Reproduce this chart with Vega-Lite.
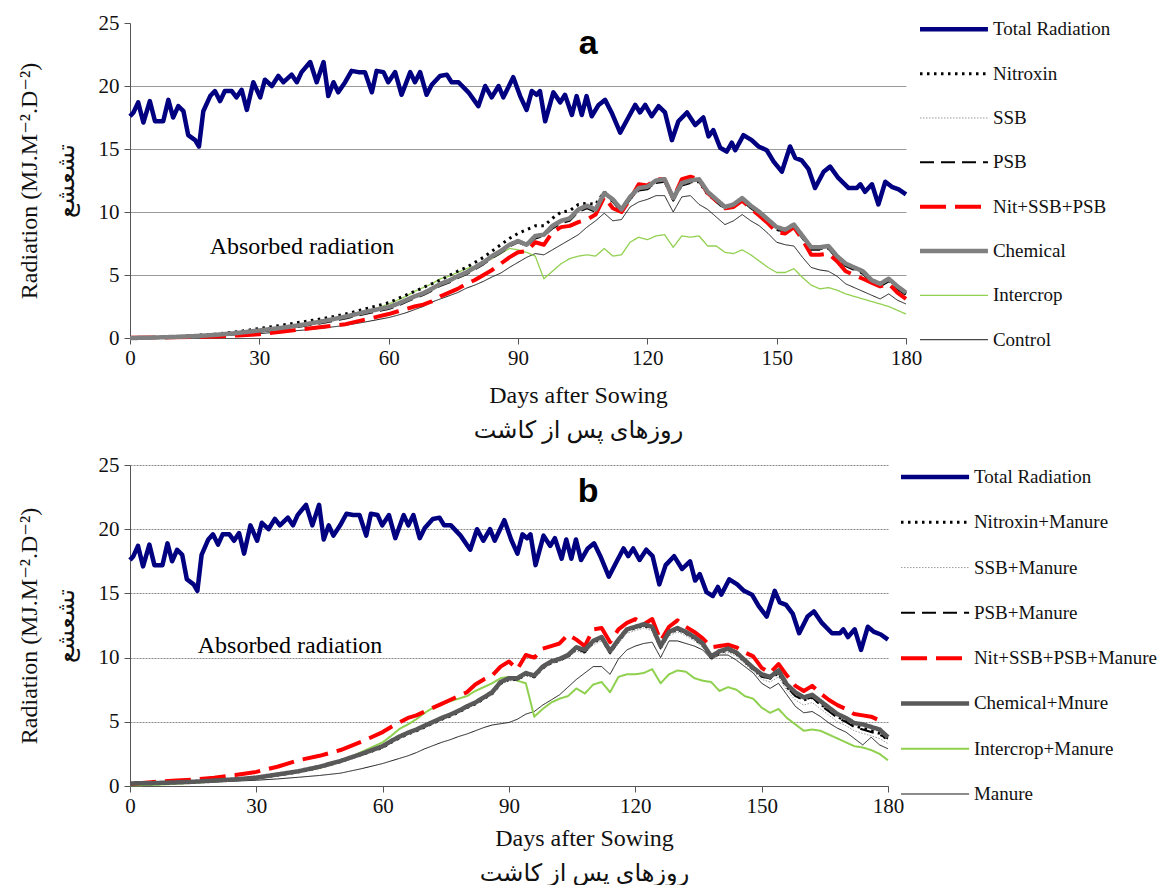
{
"$schema": "https://vega.github.io/schema/vega-lite/v6.json",
"background": "white",
"padding": {"left": 17, "top": 12, "right": 0, "bottom": 0},
"config": {
  "view": {"stroke": null},
  "font": "Liberation Serif",
  "axis": {"labelFont": "Liberation Serif", "titleFont": "Liberation Serif, DejaVu Sans", "labelColor": "#111", "titleColor": "#111", "titleFontWeight": "normal", "domainColor": "#555", "tickColor": "#555"}
},
"datasets": {
"tot": [{"d":0,"v":17.6},{"d":0.8,"v":17.9},{"d":1.9,"v":18.7},{"d":3.1,"v":17.1},{"d":4.6,"v":18.8},{"d":5.8,"v":17.2},{"d":7.7,"v":17.2},{"d":8.9,"v":18.9},{"d":10,"v":17.5},{"d":11.2,"v":18.4},{"d":12.4,"v":18.0},{"d":13.5,"v":16.1},{"d":15.1,"v":15.7},{"d":16,"v":15.2},{"d":17,"v":18.0},{"d":18.6,"v":19.2},{"d":19.7,"v":19.6},{"d":20.9,"v":18.8},{"d":22,"v":19.6},{"d":23.6,"v":19.6},{"d":24.7,"v":19.1},{"d":25.9,"v":19.7},{"d":27.1,"v":18.1},{"d":28.6,"v":20.3},{"d":30.2,"v":19.1},{"d":31.3,"v":20.5},{"d":32.9,"v":20.0},{"d":34.4,"v":20.8},{"d":35.6,"v":20.3},{"d":37.5,"v":20.9},{"d":38.7,"v":20.3},{"d":39.8,"v":21.1},{"d":41.8,"v":21.9},{"d":43.3,"v":20.3},{"d":44.9,"v":21.9},{"d":46,"v":19.2},{"d":47.2,"v":20.3},{"d":48.3,"v":19.5},{"d":49.9,"v":20.3},{"d":51.4,"v":21.2},{"d":53,"v":21.1},{"d":54.5,"v":21.1},{"d":56.1,"v":19.5},{"d":57.2,"v":21.2},{"d":58.8,"v":21.1},{"d":59.9,"v":20.3},{"d":61.5,"v":21.1},{"d":63,"v":19.3},{"d":65,"v":21.1},{"d":66.1,"v":20.3},{"d":67.3,"v":21.1},{"d":68.8,"v":19.3},{"d":70,"v":20.1},{"d":71.9,"v":20.8},{"d":73.5,"v":20.9},{"d":74.6,"v":20.3},{"d":76.2,"v":20.3},{"d":78.5,"v":19.5},{"d":80.8,"v":18.4},{"d":82.4,"v":20.0},{"d":83.9,"v":19.1},{"d":85.5,"v":20.0},{"d":86.6,"v":19.1},{"d":88.9,"v":20.7},{"d":90.5,"v":19.2},{"d":92,"v":18.1},{"d":93.2,"v":19.6},{"d":94.3,"v":19.3},{"d":95.1,"v":19.6},{"d":96.3,"v":17.2},{"d":98.2,"v":19.5},{"d":99.8,"v":18.7},{"d":100.9,"v":19.3},{"d":102.5,"v":17.7},{"d":103.6,"v":19.2},{"d":104.8,"v":17.7},{"d":105.9,"v":19.2},{"d":107.1,"v":17.6},{"d":108.7,"v":18.5},{"d":110.2,"v":18.9},{"d":111.7,"v":17.9},{"d":113.7,"v":16.3},{"d":115.6,"v":17.5},{"d":117.2,"v":18.5},{"d":118.3,"v":17.9},{"d":119.5,"v":18.5},{"d":121,"v":17.6},{"d":122.6,"v":18.4},{"d":124.1,"v":17.9},{"d":125.7,"v":15.7},{"d":127.2,"v":17.2},{"d":129.2,"v":17.9},{"d":131.1,"v":16.9},{"d":133,"v":17.5},{"d":134.2,"v":16.0},{"d":135.3,"v":16.5},{"d":136.9,"v":15.1},{"d":138.4,"v":14.8},{"d":139.6,"v":15.5},{"d":140.4,"v":14.9},{"d":142.3,"v":16.1},{"d":144.2,"v":15.7},{"d":145.8,"v":15.2},{"d":147.7,"v":14.9},{"d":149.3,"v":14.0},{"d":151.2,"v":13.2},{"d":153.1,"v":15.2},{"d":154.3,"v":14.3},{"d":155.8,"v":14.1},{"d":157.4,"v":13.4},{"d":158.9,"v":11.9},{"d":160.9,"v":13.2},{"d":162.4,"v":13.6},{"d":164.3,"v":12.7},{"d":166.7,"v":11.9},{"d":168.6,"v":11.9},{"d":169.4,"v":12.2},{"d":170.5,"v":11.6},{"d":172.1,"v":12.2},{"d":173.6,"v":10.6},{"d":175.2,"v":12.4},{"d":176.7,"v":12.0},{"d":178.3,"v":11.8},{"d":180,"v":11.4}],
"a": [
{"d":0,"K":0,"I":0,"S":0,"P":0,"N":0,"X":0.02,"C":0},
{"d":5,"K":0.02,"I":0.02,"S":0.03,"P":0.02,"N":0.03,"X":0.03,"C":0.03},
{"d":10,"K":0.05,"I":0.07,"S":0.07,"P":0.06,"N":0.1,"X":0.05,"C":0.08},
{"d":15,"K":0.1,"I":0.15,"S":0.14,"P":0.12,"N":0.2,"X":0.08,"C":0.15},
{"d":20,"K":0.15,"I":0.25,"S":0.23,"P":0.2,"N":0.32,"X":0.12,"C":0.25},
{"d":25,"K":0.25,"I":0.4,"S":0.37,"P":0.33,"N":0.5,"X":0.2,"C":0.4},
{"d":30,"K":0.35,"I":0.55,"S":0.56,"P":0.5,"N":0.75,"X":0.3,"C":0.6},
{"d":35,"K":0.48,"I":0.75,"S":0.76,"P":0.7,"N":1.0,"X":0.5,"C":0.8},
{"d":40,"K":0.62,"I":1.0,"S":1.0,"P":0.93,"N":1.28,"X":0.7,"C":1.05},
{"d":45,"K":0.8,"I":1.3,"S":1.28,"P":1.2,"N":1.55,"X":0.9,"C":1.35},
{"d":50,"K":1.0,"I":1.65,"S":1.62,"P":1.55,"N":1.9,"X":1.1,"C":1.7},
{"d":55,"K":1.3,"I":2.1,"S":2.0,"P":1.95,"N":2.35,"X":1.5,"C":2.1},
{"d":60,"K":1.62,"I":2.7,"S":2.35,"P":2.3,"N":2.8,"X":1.9,"C":2.45},
{"d":62,"K":1.8,"I":3.0,"S":2.6,"P":2.55,"N":3.1,"X":2.1,"C":2.7},
{"d":64,"K":2.0,"I":3.3,"S":2.9,"P":2.85,"N":3.4,"X":2.3,"C":3.0},
{"d":66,"K":2.25,"I":3.7,"S":3.2,"P":3.15,"N":3.7,"X":2.5,"C":3.3},
{"d":68,"K":2.5,"I":4.0,"S":3.45,"P":3.4,"N":4.0,"X":2.65,"C":3.55},
{"d":70,"K":2.85,"I":4.3,"S":3.8,"P":3.75,"N":4.3,"X":2.9,"C":3.9},
{"d":72,"K":3.1,"I":4.7,"S":4.2,"P":4.15,"N":4.6,"X":3.3,"C":4.3},
{"d":74,"K":3.35,"I":4.9,"S":4.45,"P":4.4,"N":4.95,"X":3.6,"C":4.55},
{"d":76,"K":3.6,"I":5.2,"S":4.8,"P":4.75,"N":5.3,"X":3.9,"C":4.9},
{"d":78,"K":3.95,"I":5.5,"S":5.1,"P":5.05,"N":5.6,"X":4.3,"C":5.2},
{"d":80,"K":4.2,"I":5.7,"S":5.5,"P":5.45,"N":6.0,"X":4.6,"C":5.6},
{"d":82,"K":4.5,"I":6.0,"S":5.9,"P":5.85,"N":6.4,"X":5.0,"C":6.0},
{"d":84,"K":4.85,"I":6.3,"S":6.4,"P":6.35,"N":6.9,"X":5.4,"C":6.5},
{"d":86,"K":5.15,"I":6.7,"S":6.8,"P":6.75,"N":7.4,"X":5.9,"C":6.9},
{"d":88,"K":5.6,"I":7.1,"S":7.3,"P":7.25,"N":7.9,"X":6.4,"C":7.4},
{"d":90,"K":6.0,"I":7.0,"S":7.6,"P":7.6,"N":8.3,"X":6.8,"C":7.7},
{"d":92,"K":6.4,"I":6.8,"S":7.3,"P":7.3,"N":8.6,"X":6.9,"C":7.4},
{"d":94,"K":6.7,"I":6.5,"S":8.0,"P":7.9,"N":8.9,"X":7.6,"C":8.1},
{"d":96,"K":6.6,"I":4.7,"S":8.1,"P":8.1,"N":8.9,"X":7.4,"C":8.2},
{"d":98,"K":7.0,"I":5.3,"S":8.8,"P":8.7,"N":9.5,"X":8.4,"C":8.9},
{"d":100,"K":7.4,"I":5.9,"S":9.2,"P":9.1,"N":10.0,"X":8.8,"C":9.3},
{"d":102,"K":7.8,"I":6.3,"S":9.4,"P":9.3,"N":10.1,"X":8.9,"C":9.5},
{"d":104,"K":8.2,"I":6.5,"S":10.1,"P":10.0,"N":10.6,"X":9.2,"C":10.2},
{"d":106,"K":8.8,"I":6.6,"S":10.4,"P":10.3,"N":10.7,"X":9.4,"C":10.5},
{"d":108,"K":9.3,"I":6.5,"S":10.1,"P":10.0,"N":10.6,"X":9.8,"C":10.2},
{"d":110,"K":9.9,"I":7.1,"S":11.4,"P":11.3,"N":11.6,"X":11.2,"C":11.5},
{"d":112,"K":9.3,"I":6.5,"S":10.9,"P":10.8,"N":11.0,"X":10.3,"C":11.0},
{"d":114,"K":9.4,"I":6.6,"S":10.1,"P":10.0,"N":10.2,"X":10.0,"C":10.2},
{"d":116,"K":10.4,"I":7.6,"S":11.1,"P":11.0,"N":11.1,"X":11.0,"C":11.2},
{"d":118,"K":10.8,"I":8.0,"S":11.8,"P":11.7,"N":11.8,"X":12.2,"C":11.9},
{"d":120,"K":11.0,"I":7.8,"S":11.9,"P":11.8,"N":11.9,"X":12.1,"C":12.0},
{"d":122,"K":11.3,"I":8.1,"S":12.4,"P":12.3,"N":12.4,"X":12.6,"C":12.5},
{"d":124,"K":11.3,"I":8.2,"S":12.5,"P":12.4,"N":12.5,"X":12.6,"C":12.6},
{"d":126,"K":10.0,"I":7.2,"S":11.0,"P":10.9,"N":11.0,"X":11.1,"C":11.1},
{"d":128,"K":11.2,"I":8.1,"S":12.2,"P":12.1,"N":12.2,"X":12.6,"C":12.3},
{"d":130,"K":11.3,"I":8.0,"S":12.4,"P":12.3,"N":12.4,"X":12.8,"C":12.5},
{"d":132,"K":10.6,"I":8.1,"S":12.5,"P":12.4,"N":12.4,"X":12.6,"C":12.6},
{"d":134,"K":10.2,"I":7.3,"S":11.5,"P":11.4,"N":11.4,"X":11.5,"C":11.6},
{"d":136,"K":9.6,"I":7.3,"S":10.9,"P":10.8,"N":10.9,"X":10.9,"C":11.0},
{"d":138,"K":9.0,"I":6.8,"S":10.3,"P":10.2,"N":10.3,"X":10.3,"C":10.4},
{"d":140,"K":9.3,"I":6.7,"S":10.5,"P":10.4,"N":10.5,"X":10.4,"C":10.6},
{"d":142,"K":9.8,"I":7.0,"S":11.0,"P":10.9,"N":11.0,"X":10.9,"C":11.1},
{"d":144,"K":9.3,"I":6.6,"S":10.4,"P":10.3,"N":10.4,"X":10.3,"C":10.5},
{"d":146,"K":8.9,"I":6.1,"S":9.9,"P":9.8,"N":9.9,"X":9.7,"C":10.0},
{"d":148,"K":8.3,"I":5.6,"S":9.3,"P":9.2,"N":9.3,"X":9.1,"C":9.4},
{"d":150,"K":7.6,"I":5.2,"S":8.7,"P":8.6,"N":8.6,"X":8.4,"C":8.8},
{"d":152,"K":7.4,"I":5.2,"S":8.5,"P":8.4,"N":8.5,"X":8.3,"C":8.6},
{"d":154,"K":7.3,"I":5.5,"S":8.9,"P":8.8,"N":8.9,"X":8.8,"C":9.0},
{"d":156,"K":6.4,"I":4.8,"S":8.0,"P":7.9,"N":8.0,"X":7.8,"C":8.1},
{"d":158,"K":5.6,"I":4.2,"S":7.1,"P":7.0,"N":7.1,"X":6.6,"C":7.2},
{"d":160,"K":5.4,"I":3.9,"S":7.1,"P":7.0,"N":7.1,"X":6.6,"C":7.2},
{"d":162,"K":5.3,"I":4.0,"S":7.2,"P":7.1,"N":7.2,"X":6.7,"C":7.3},
{"d":164,"K":4.9,"I":3.8,"S":6.4,"P":6.3,"N":6.4,"X":6.1,"C":6.5},
{"d":166,"K":4.3,"I":3.5,"S":5.8,"P":5.7,"N":5.8,"X":5.3,"C":5.9},
{"d":168,"K":4.0,"I":3.3,"S":5.5,"P":5.4,"N":5.5,"X":5.0,"C":5.6},
{"d":170,"K":3.7,"I":3.1,"S":5.2,"P":5.1,"N":5.2,"X":4.7,"C":5.3},
{"d":172,"K":3.4,"I":2.9,"S":4.5,"P":4.4,"N":4.5,"X":4.4,"C":4.6},
{"d":174,"K":3.1,"I":2.7,"S":4.2,"P":4.1,"N":4.2,"X":4.1,"C":4.3},
{"d":176,"K":3.5,"I":2.5,"S":4.6,"P":4.5,"N":4.6,"X":4.3,"C":4.7},
{"d":178,"K":3.0,"I":2.2,"S":4.0,"P":3.9,"N":4.0,"X":3.6,"C":4.1},
{"d":180,"K":2.7,"I":1.9,"S":3.5,"P":3.4,"N":3.5,"X":3.1,"C":3.6}
],
"b": [
{"d":0,"K":0.15,"I":0.05,"S":0.2,"P":0.22,"N":0.2,"X":0.15,"C":0.2},
{"d":5,"K":0.18,"I":0.08,"S":0.22,"P":0.24,"N":0.22,"X":0.3,"C":0.22},
{"d":10,"K":0.22,"I":0.15,"S":0.26,"P":0.28,"N":0.26,"X":0.4,"C":0.27},
{"d":15,"K":0.27,"I":0.25,"S":0.31,"P":0.34,"N":0.32,"X":0.5,"C":0.33},
{"d":20,"K":0.32,"I":0.35,"S":0.39,"P":0.43,"N":0.4,"X":0.65,"C":0.42},
{"d":25,"K":0.38,"I":0.48,"S":0.49,"P":0.53,"N":0.5,"X":0.85,"C":0.52},
{"d":30,"K":0.45,"I":0.62,"S":0.6,"P":0.66,"N":0.62,"X":1.1,"C":0.65},
{"d":35,"K":0.55,"I":0.85,"S":0.82,"P":0.9,"N":0.85,"X":1.5,"C":0.9},
{"d":40,"K":0.68,"I":1.1,"S":1.07,"P":1.15,"N":1.1,"X":2.0,"C":1.15},
{"d":45,"K":0.82,"I":1.4,"S":1.4,"P":1.5,"N":1.45,"X":2.35,"C":1.5},
{"d":50,"K":1.0,"I":1.9,"S":1.85,"P":1.95,"N":1.9,"X":2.8,"C":1.95},
{"d":55,"K":1.35,"I":2.65,"S":2.4,"P":2.5,"N":2.45,"X":3.45,"C":2.5},
{"d":60,"K":1.75,"I":3.4,"S":2.95,"P":3.05,"N":3.0,"X":4.2,"C":3.1},
{"d":62,"K":1.95,"I":3.9,"S":3.35,"P":3.45,"N":3.4,"X":4.6,"C":3.5},
{"d":64,"K":2.15,"I":4.45,"S":3.7,"P":3.8,"N":3.75,"X":4.95,"C":3.85},
{"d":66,"K":2.35,"I":4.8,"S":4.0,"P":4.1,"N":4.05,"X":5.3,"C":4.15},
{"d":68,"K":2.6,"I":5.2,"S":4.25,"P":4.35,"N":4.3,"X":5.5,"C":4.4},
{"d":70,"K":2.9,"I":5.7,"S":4.55,"P":4.65,"N":4.6,"X":5.8,"C":4.7},
{"d":72,"K":3.15,"I":6.1,"S":4.85,"P":4.95,"N":4.9,"X":6.1,"C":5.0},
{"d":74,"K":3.4,"I":6.35,"S":5.15,"P":5.25,"N":5.2,"X":6.4,"C":5.3},
{"d":76,"K":3.6,"I":6.6,"S":5.4,"P":5.5,"N":5.45,"X":6.7,"C":5.55},
{"d":78,"K":3.85,"I":6.8,"S":5.7,"P":5.8,"N":5.75,"X":7.0,"C":5.85},
{"d":80,"K":4.05,"I":7.0,"S":6.05,"P":6.15,"N":6.1,"X":7.3,"C":6.2},
{"d":82,"K":4.3,"I":7.4,"S":6.35,"P":6.45,"N":6.4,"X":7.9,"C":6.5},
{"d":84,"K":4.55,"I":7.7,"S":6.75,"P":6.85,"N":6.8,"X":8.3,"C":6.9},
{"d":86,"K":4.75,"I":8.0,"S":7.15,"P":7.25,"N":7.2,"X":8.6,"C":7.3},
{"d":88,"K":4.85,"I":8.4,"S":7.9,"P":8.0,"N":8.0,"X":9.3,"C":8.1},
{"d":90,"K":4.95,"I":8.5,"S":8.2,"P":8.35,"N":8.3,"X":9.7,"C":8.4},
{"d":92,"K":5.2,"I":8.2,"S":8.2,"P":8.3,"N":8.3,"X":9.1,"C":8.4},
{"d":94,"K":5.6,"I":8.0,"S":8.6,"P":8.75,"N":8.7,"X":10.2,"C":8.8},
{"d":96,"K":5.8,"I":5.4,"S":8.4,"P":8.5,"N":8.5,"X":10.0,"C":8.6},
{"d":98,"K":6.3,"I":6.0,"S":9.1,"P":9.2,"N":9.2,"X":10.7,"C":9.3},
{"d":100,"K":6.7,"I":6.5,"S":9.5,"P":9.65,"N":9.6,"X":10.9,"C":9.7},
{"d":102,"K":7.1,"I":6.8,"S":9.7,"P":9.8,"N":9.8,"X":11.1,"C":9.9},
{"d":104,"K":7.7,"I":7.0,"S":10.0,"P":10.1,"N":10.1,"X":11.8,"C":10.2},
{"d":106,"K":8.3,"I":7.6,"S":10.5,"P":10.7,"N":10.7,"X":11.4,"C":10.8},
{"d":108,"K":8.8,"I":7.2,"S":10.3,"P":10.4,"N":10.5,"X":10.9,"C":10.6},
{"d":110,"K":9.3,"I":7.9,"S":11.0,"P":11.3,"N":11.2,"X":12.2,"C":11.3},
{"d":112,"K":9.3,"I":8.1,"S":11.3,"P":11.5,"N":11.5,"X":12.3,"C":11.6},
{"d":114,"K":8.7,"I":7.3,"S":10.2,"P":10.4,"N":10.4,"X":11.2,"C":10.5},
{"d":116,"K":9.9,"I":8.5,"S":11.1,"P":11.4,"N":11.3,"X":12.2,"C":11.4},
{"d":118,"K":10.6,"I":8.7,"S":11.9,"P":12.1,"N":12.1,"X":12.7,"C":12.2},
{"d":120,"K":10.9,"I":8.7,"S":12.1,"P":12.3,"N":12.3,"X":13.0,"C":12.4},
{"d":122,"K":11.1,"I":8.8,"S":12.3,"P":12.5,"N":12.5,"X":12.6,"C":12.6},
{"d":124,"K":11.2,"I":9.1,"S":12.1,"P":12.3,"N":12.3,"X":13.0,"C":12.4},
{"d":126,"K":10.0,"I":8.0,"S":10.6,"P":10.8,"N":10.8,"X":11.3,"C":10.9},
{"d":128,"K":11.3,"I":8.7,"S":11.7,"P":11.9,"N":11.9,"X":12.4,"C":12.0},
{"d":130,"K":11.3,"I":9.0,"S":12.0,"P":12.2,"N":12.2,"X":12.9,"C":12.3},
{"d":132,"K":11.1,"I":8.9,"S":11.7,"P":11.9,"N":11.9,"X":12.4,"C":12.0},
{"d":134,"K":10.9,"I":8.4,"S":11.3,"P":11.5,"N":11.5,"X":12.0,"C":11.6},
{"d":136,"K":10.6,"I":8.2,"S":10.8,"P":11.0,"N":11.0,"X":11.5,"C":11.1},
{"d":138,"K":9.9,"I":8.1,"S":9.8,"P":10.0,"N":10.0,"X":10.8,"C":10.1},
{"d":140,"K":10.2,"I":7.4,"S":10.2,"P":10.4,"N":10.4,"X":10.9,"C":10.5},
{"d":142,"K":10.2,"I":7.7,"S":10.4,"P":10.6,"N":10.6,"X":11.0,"C":10.7},
{"d":144,"K":9.8,"I":7.5,"S":10.1,"P":10.3,"N":10.3,"X":10.8,"C":10.4},
{"d":146,"K":9.3,"I":7.0,"S":9.5,"P":9.7,"N":9.7,"X":10.4,"C":9.8},
{"d":148,"K":8.8,"I":6.8,"S":8.9,"P":9.1,"N":9.1,"X":10.1,"C":9.2},
{"d":150,"K":8.0,"I":6.1,"S":8.3,"P":8.5,"N":8.6,"X":9.2,"C":8.7},
{"d":152,"K":7.6,"I":5.7,"S":8.1,"P":8.4,"N":8.4,"X":8.8,"C":8.5},
{"d":154,"K":8.0,"I":6.0,"S":8.5,"P":8.8,"N":8.8,"X":9.5,"C":9.0},
{"d":156,"K":7.1,"I":5.3,"S":7.4,"P":7.7,"N":7.7,"X":8.6,"C":7.9},
{"d":158,"K":6.2,"I":4.8,"S":6.7,"P":7.0,"N":7.1,"X":7.8,"C":7.3},
{"d":160,"K":5.7,"I":4.3,"S":6.3,"P":6.7,"N":6.7,"X":7.4,"C":6.9},
{"d":162,"K":5.8,"I":4.4,"S":6.5,"P":6.9,"N":6.9,"X":7.8,"C":7.1},
{"d":164,"K":5.4,"I":4.3,"S":6.0,"P":6.3,"N":6.4,"X":7.2,"C":6.6},
{"d":166,"K":4.9,"I":4.0,"S":5.5,"P":5.8,"N":5.9,"X":6.7,"C":6.1},
{"d":168,"K":4.5,"I":3.7,"S":5.0,"P":5.3,"N":5.4,"X":6.3,"C":5.6},
{"d":170,"K":4.2,"I":3.4,"S":4.7,"P":5.0,"N":5.1,"X":6.0,"C":5.3},
{"d":172,"K":3.7,"I":3.1,"S":4.3,"P":4.6,"N":4.7,"X":5.6,"C":4.9},
{"d":174,"K":3.2,"I":3.0,"S":4.1,"P":4.4,"N":4.5,"X":5.5,"C":4.8},
{"d":176,"K":3.8,"I":2.8,"S":3.9,"P":4.2,"N":4.3,"X":5.4,"C":4.6},
{"d":178,"K":3.2,"I":2.5,"S":3.7,"P":4.0,"N":4.1,"X":5.1,"C":4.4},
{"d":180,"K":2.9,"I":2.0,"S":3.3,"P":3.7,"N":3.6,"X":null,"C":3.8}
],
"la": [{"k":"T","label":"Total Radiation"},{"k":"N","label":"Nitroxin"},{"k":"S","label":"SSB"},{"k":"P","label":"PSB"},{"k":"X","label":"Nit+SSB+PSB"},{"k":"C","label":"Chemical"},{"k":"I","label":"Intercrop"},{"k":"K","label":"Control"}],
"lb": [{"k":"T","label":"Total Radiation"},{"k":"N","label":"Nitroxin+Manure"},{"k":"S","label":"SSB+Manure"},{"k":"P","label":"PSB+Manure"},{"k":"X","label":"Nit+SSB+PSB+Manure"},{"k":"C","label":"Chemical+Mnure"},{"k":"I","label":"Intercrop+Manure"},{"k":"K","label":"Manure"}],
"ta": [{"d":106.3,"v":23.3,"t":"a"}],
"tb": [{"d":108.8,"v":22.9,"t":"b"}],
"aa": [{"d":39.9,"v":7.2,"t":"Absorbed radiation"}],
"ab": [{"d":38.0,"v":10.9,"t":"Absorbed radiation"}]
},
"spacing": 12,
"resolve": {"scale": {"color": "independent", "strokeDash": "independent", "strokeWidth": "independent"}},
"vconcat": [
{
 "bounds": "flush",
 "spacing": 14,
 "hconcat": [
  {
   "width": 776, "height": 315,
   "layer": [
    {
     "data": {"name": "a"},
     "transform": [{"fold": ["K","I","S","P","N","X","C"], "as": ["k","v"]}],
     "mark": {"type": "line", "strokeJoin": "round"},
     "encoding": {
      "x": {"field": "d", "type": "quantitative", "scale": {"domain": [0,180], "nice": false},
            "axis": {"values": [0,30,60,90,120,150,180], "labelFontSize": 21, "labelFlush": false, "labelPadding": 3, "tickSize": 6, "grid": false,
                     "title": ["Days after Sowing", "روزهای پس از کاشت"], "titleFontSize": 24, "titleLineHeight": 35, "titleX": 448, "titleY": 45}},
      "y": {"field": "v", "type": "quantitative", "scale": {"domain": [0,25], "nice": false},
            "axis": {"values": [0,5,10,15,20,25], "labelFontSize": 21, "labelPadding": 5, "tickSize": 6,
                     "grid": true, "gridColor": "#9a9a9a", "gridOpacity": {"condition": {"test": "datum.value == 25", "value": 0}, "value": 1},
                     "title": ["Radiation (MJ.M⁻².D⁻²)", "تشعشع"], "titleFontSize": 24, "titleLineHeight": 37, "titlePadding": 20}},
      "color": {"field": "k", "type": "nominal", "legend": null, "scale": {"domain": ["T","N","S","P","X","C","I","K"], "range": ["#000080","#000000","#9a9a9a","#000000","#ff0000","#808080","#92d050","#1a1a1a"]}},
      "strokeDash": {"field": "k", "type": "nominal", "legend": null, "scale": {"domain": ["T","N","S","P","X","C","I","K"], "range": [[1,0],[2.5,4.5],[1.5,1.5],[14,7],[26,9],[1,0],[1,0],[1,0]]}},
      "strokeWidth": {"field": "k", "type": "nominal", "legend": null, "scale": {"type": "ordinal", "domain": ["T","N","S","P","X","C","I","K"], "range": [4.5,3,1,2,4,4.5,1.3,1]}}
     }
    },
    {
     "data": {"name": "tot"},
     "mark": {"type": "line", "color": "#000080", "strokeWidth": 4.5, "strokeJoin": "round"},
     "encoding": {"x": {"field": "d", "type": "quantitative"}, "y": {"field": "v", "type": "quantitative"}}
    },
    {
     "data": {"name": "ta"},
     "mark": {"type": "text", "font": "Liberation Sans", "fontWeight": "bold", "fontSize": 34, "baseline": "middle", "align": "center", "color": "#000"},
     "encoding": {"x": {"field": "d", "type": "quantitative"}, "y": {"field": "v", "type": "quantitative"}, "text": {"field": "t"}}
    },
    {
     "data": {"name": "aa"},
     "mark": {"type": "text", "font": "Liberation Serif", "fontSize": 24, "baseline": "middle", "align": "center", "color": "#000"},
     "encoding": {"x": {"field": "d", "type": "quantitative"}, "y": {"field": "v", "type": "quantitative"}, "text": {"field": "t"}}
    }
   ]
  },
  {
   "width": 248, "height": 323,
   "data": {"name": "la"},
   "layer": [
    {
     "mark": {"type": "rule", "strokeCap": "butt"},
     "encoding": {
      "y": {"field": "k", "type": "nominal", "scale": {"type": "point", "domain": ["T","N","S","P","X","C","I","K"], "padding": 0.142}, "axis": null},
      "x": {"datum": 0, "type": "quantitative", "scale": {"domain": [0,1], "nice": false}, "axis": null},
      "x2": {"datum": 0.274},
      "color": {"field": "k", "type": "nominal", "legend": null, "scale": {"domain": ["T","N","S","P","X","C","I","K"], "range": ["#000080","#000000","#9a9a9a","#000000","#ff0000","#808080","#92d050","#1a1a1a"]}},
      "strokeDash": {"field": "k", "type": "nominal", "legend": null, "scale": {"domain": ["T","N","S","P","X","C","I","K"], "range": [[1,0],[2.5,4.5],[1.5,1.5],[14,7],[26,9],[1,0],[1,0],[1,0]]}},
      "strokeWidth": {"field": "k", "type": "nominal", "legend": null, "scale": {"type": "ordinal", "domain": ["T","N","S","P","X","C","I","K"], "range": [4.5,3,1,2,4,4.5,1.3,1]}}
     }
    },
    {
     "mark": {"type": "text", "align": "left", "baseline": "middle", "fontSize": 19, "font": "Liberation Serif", "color": "#111"},
     "encoding": {
      "y": {"field": "k", "type": "nominal", "axis": null},
      "x": {"datum": 0.294, "type": "quantitative"},
      "text": {"field": "label"}
     }
    }
   ]
  }
 ]
},
{
 "bounds": "flush",
 "spacing": 13,
 "hconcat": [
  {
   "width": 758, "height": 321,
   "layer": [
    {
     "data": {"name": "b"},
     "transform": [{"fold": ["K","I","S","P","N","X","C"], "as": ["k","v"]}],
     "mark": {"type": "line", "strokeJoin": "round"},
     "encoding": {
      "x": {"field": "d", "type": "quantitative", "scale": {"domain": [0,180], "nice": false},
            "axis": {"values": [0,30,60,90,120,150,180], "labelFontSize": 21, "labelFlush": false, "labelPadding": 3, "tickSize": 6, "grid": false,
                     "title": ["Days after Sowing", "روزهای پس از کاشت"], "titleFontSize": 24, "titleLineHeight": 35, "titleX": 454, "titleY": 40}},
      "y": {"field": "v", "type": "quantitative", "scale": {"domain": [0,25], "nice": false},
            "axis": {"values": [0,5,10,15,20,25], "labelFontSize": 21, "labelPadding": 5, "tickSize": 6,
                     "grid": true, "gridColor": "#8a8a8a", "gridDash": [2,1],
                     "title": ["Radiation (MJ.M⁻².D⁻²)", "تشعشع"], "titleFontSize": 24, "titleLineHeight": 37, "titlePadding": 20}},
      "color": {"field": "k", "type": "nominal", "legend": null, "scale": {"domain": ["T","N","S","P","X","C","I","K"], "range": ["#000080","#000000","#9a9a9a","#000000","#ff0000","#595959","#8fd14f","#1a1a1a"]}},
      "strokeDash": {"field": "k", "type": "nominal", "legend": null, "scale": {"domain": ["T","N","S","P","X","C","I","K"], "range": [[1,0],[2.5,4.5],[1.5,1.5],[14,7],[26,9],[1,0],[1,0],[1,0]]}},
      "strokeWidth": {"field": "k", "type": "nominal", "legend": null, "scale": {"type": "ordinal", "domain": ["T","N","S","P","X","C","I","K"], "range": [4.5,3,1,2,4,4.5,2,1]}}
     }
    },
    {
     "data": {"name": "tot"},
     "mark": {"type": "line", "color": "#000080", "strokeWidth": 4.5, "strokeJoin": "round"},
     "encoding": {"x": {"field": "d", "type": "quantitative"}, "y": {"field": "v", "type": "quantitative"}}
    },
    {
     "data": {"name": "tb"},
     "mark": {"type": "text", "font": "Liberation Sans", "fontWeight": "bold", "fontSize": 34, "baseline": "middle", "align": "center", "color": "#000"},
     "encoding": {"x": {"field": "d", "type": "quantitative"}, "y": {"field": "v", "type": "quantitative"}, "text": {"field": "t"}}
    },
    {
     "data": {"name": "ab"},
     "mark": {"type": "text", "font": "Liberation Serif", "fontSize": 24, "baseline": "middle", "align": "center", "color": "#000"},
     "encoding": {"x": {"field": "d", "type": "quantitative"}, "y": {"field": "v", "type": "quantitative"}, "text": {"field": "t"}}
    }
   ]
  },
  {
   "width": 267, "height": 341,
   "data": {"name": "lb"},
   "layer": [
    {
     "mark": {"type": "rule", "strokeCap": "butt"},
     "encoding": {
      "y": {"field": "k", "type": "nominal", "scale": {"type": "point", "domain": ["T","N","S","P","X","C","I","K"], "padding": 0.265}, "axis": null},
      "x": {"datum": 0, "type": "quantitative", "scale": {"domain": [0,1], "nice": false}, "axis": null},
      "x2": {"datum": 0.255},
      "color": {"field": "k", "type": "nominal", "legend": null, "scale": {"domain": ["T","N","S","P","X","C","I","K"], "range": ["#000080","#000000","#9a9a9a","#000000","#ff0000","#595959","#8fd14f","#1a1a1a"]}},
      "strokeDash": {"field": "k", "type": "nominal", "legend": null, "scale": {"domain": ["T","N","S","P","X","C","I","K"], "range": [[1,0],[2.5,4.5],[1.5,1.5],[14,7],[26,9],[1,0],[1,0],[1,0]]}},
      "strokeWidth": {"field": "k", "type": "nominal", "legend": null, "scale": {"type": "ordinal", "domain": ["T","N","S","P","X","C","I","K"], "range": [4.5,3,1,2,4,4.5,2,1]}}
     }
    },
    {
     "mark": {"type": "text", "align": "left", "baseline": "middle", "fontSize": 19, "font": "Liberation Serif", "color": "#111"},
     "encoding": {
      "y": {"field": "k", "type": "nominal", "axis": null},
      "x": {"datum": 0.273, "type": "quantitative"},
      "text": {"field": "label"}
     }
    }
   ]
  }
 ]
}
]
}
